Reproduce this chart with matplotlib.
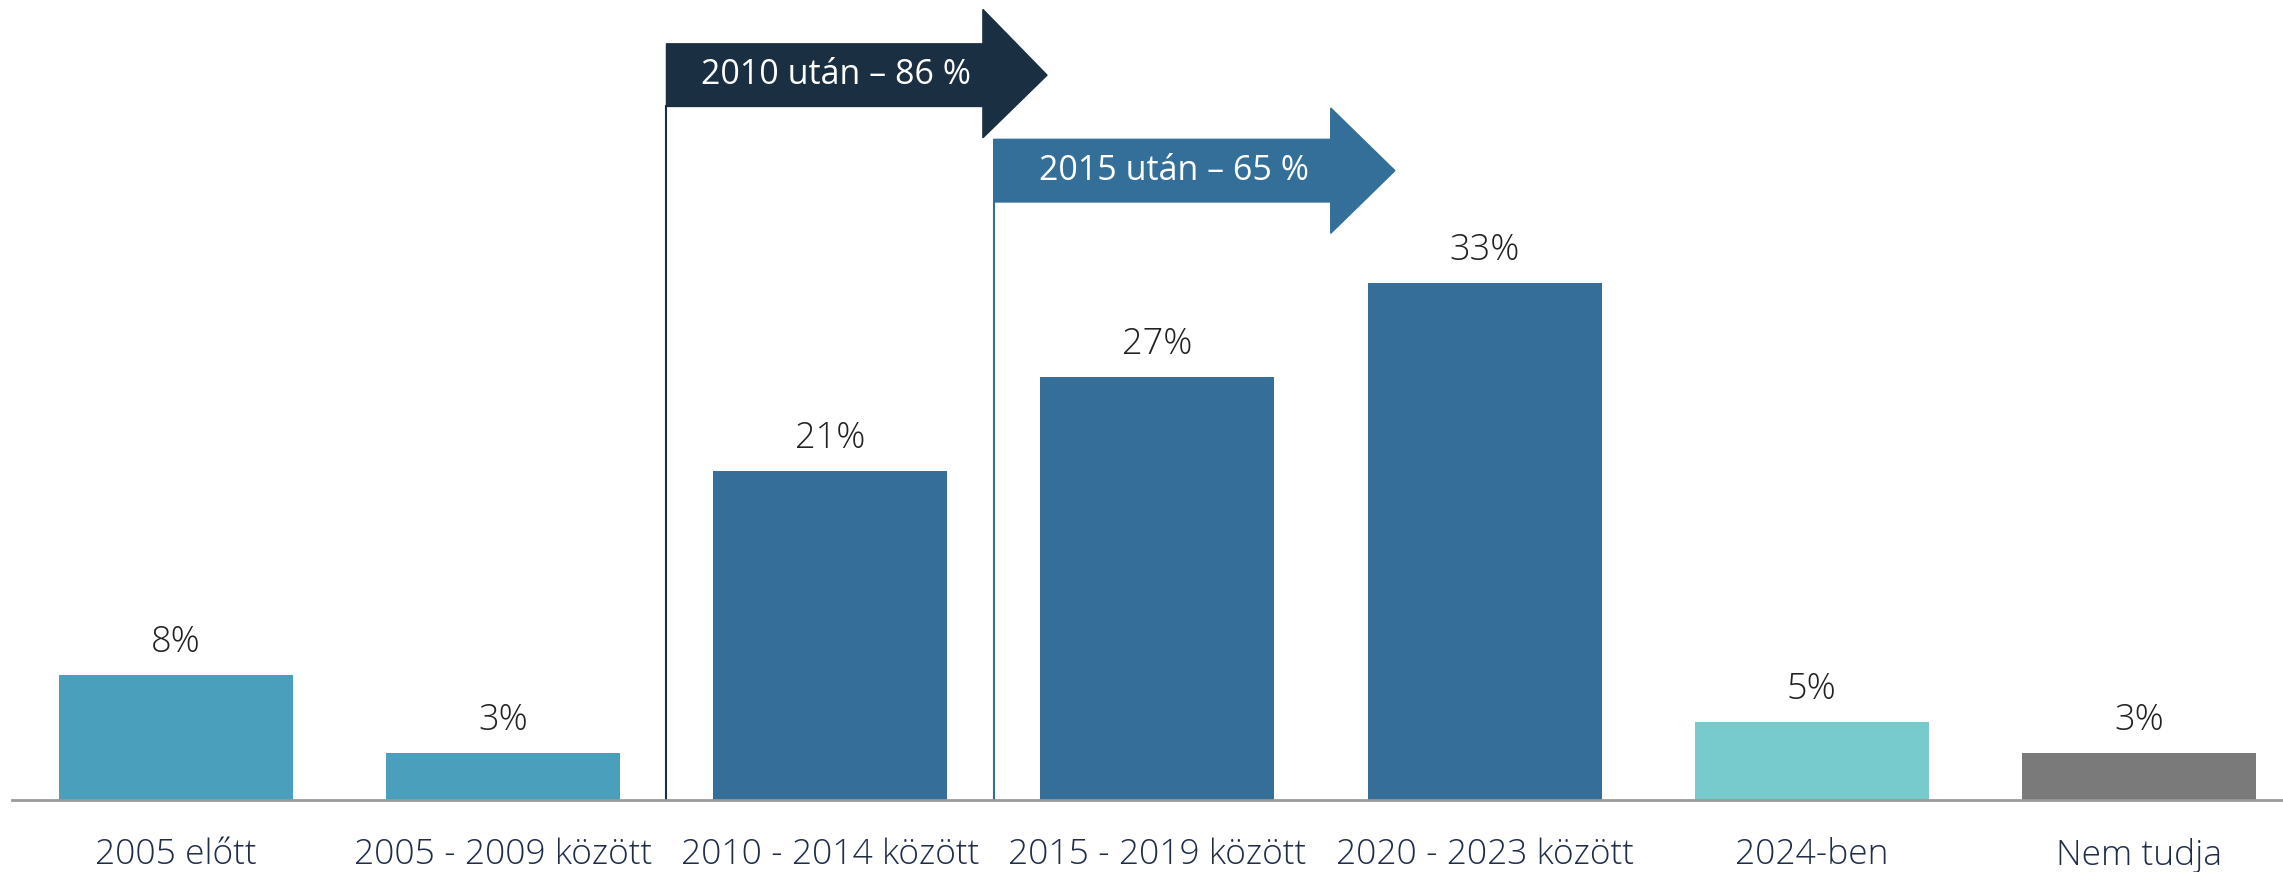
import matplotlib.pyplot as plt
from matplotlib.patches import Polygon

plt.rcParams['font.family'] = ['Open Sans', 'DejaVu Sans']

# adatok
categories = ["2005 előtt", "2005 - 2009 között", "2010 - 2014 között",
              "2015 - 2019 között", "2020 - 2023 között", "2024-ben", "Nem tudja"]
values = [8, 3, 21, 27, 33, 5, 3]
bar_colors = ["#4a9fbd", "#4a9fbd", "#356f99", "#356f99", "#356f99", "#77cbcd", "#7a7a7a"]

arrow_labels = ["2010 után – 86 %", "2015 után – 65 %"]
arrow_colors = ["#1a2f42", "#336f99"]

fig = plt.figure(figsize=(22.83, 8.72), dpi=100)
ax = fig.add_axes([12 / 2283, 72 / 872, 2271 / 2283, 800 / 872])

x = list(range(len(categories)))
bars = ax.bar(x, values, width=0.715, color=bar_colors, zorder=2)

for b, v in zip(bars, values):
    ax.annotate(f"{v}%", (b.get_x() + b.get_width() / 2, v), xytext=(0, 10),
                textcoords="offset points", ha="center", va="bottom",
                fontsize=26, fontweight="light", color="#222222")

ax.set_xlim(-0.5, 6.44)
ax.set_ylim(0, 51.1)
ax.set_xticks(x)
ax.set_xticklabels(categories, fontsize=25.5, fontweight="light", color="#1f2d4a")
ax.tick_params(axis="x", length=0, pad=27)
ax.set_yticks([])
for s in ["top", "right", "left"]:
    ax.spines[s].set_visible(False)
ax.spines["bottom"].set_color("#9a9a9a")
ax.spines["bottom"].set_linewidth(2)

# nyilak: (bal x, test jobb x, csúcs x, test alja, test teteje, fej alja, fej teteje)
arrows = [
    (1.5, 2.467, 2.663, 44.3, 48.3, 42.3, 50.5),
    (2.5, 3.53, 3.726, 38.2, 42.2, 36.2, 44.2),
]
for (x0, xb, xt, y0, y1, h0, h1), lab, col in zip(arrows, arrow_labels, arrow_colors):
    ym = (y0 + y1) / 2
    pts = [(x0, y0), (xb, y0), (xb, h0), (xt, ym), (xb, h1), (xb, y1), (x0, y1)]
    ax.add_patch(Polygon(pts, closed=True, color=col, zorder=3, clip_on=False))
    ax.plot([x0, x0], [0, y0], color=col, lw=1.5, zorder=1)
    ax.text(x0 + (xb - x0) / 2 + 0.035, ym, lab, ha="center", va="center",
            fontsize=24.5, color="white", zorder=4)

fig.savefig("out.png", dpi=100)
